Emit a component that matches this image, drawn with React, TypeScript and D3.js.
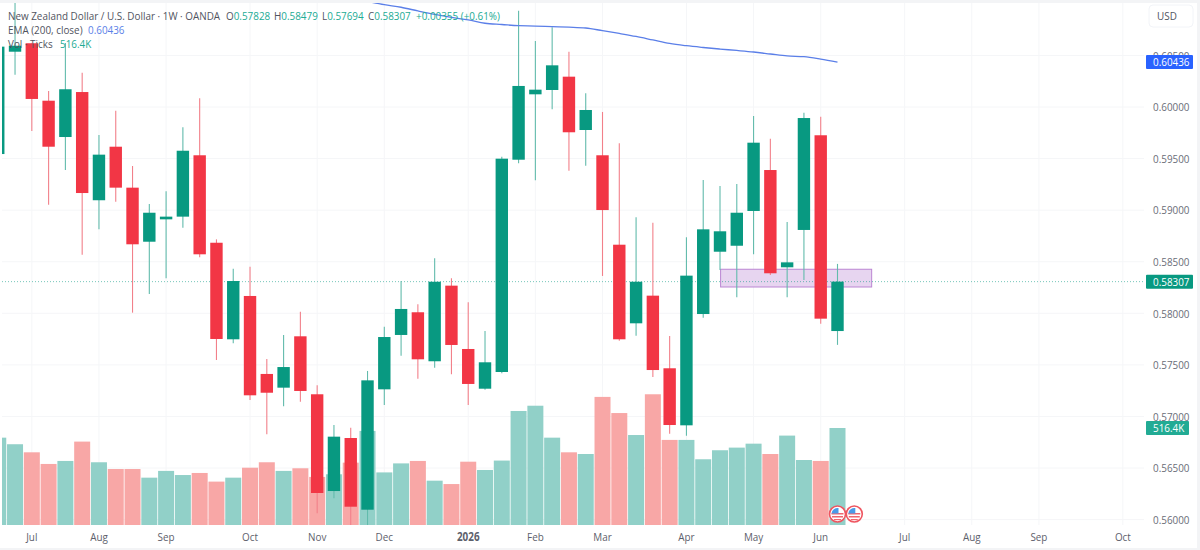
import React, { useEffect, useRef } from "react";
import * as d3 from "d3";

const W = 1200, H = 550;
const opens = [.59544,.60536,.60618,.60061,.59709,.60145,.59096,.59615,.59218,.58694,.58911,.58937,.59532,.58684,.57748,.58168,.57412,.57279,.57777,.57215,.56277,.56791,.56096,.57263,.5779,.5801,.57535,.58268,.57654,.57269,.57431,.59489,.60123,.60165,.60294,.59777,.59532,.58665,.57903,.58171,.57467,.56914,.57993,.58597,.58655,.58992,.59389,.58446,.58808,.59726,.57828];
const highs = [.60585,.61008,.60618,.60155,.60621,.60333,.59729,.59964,.59428,.5906,.59183,.59803,.60084,.58717,.58432,.58452,.57557,.5779,.58016,.57302,.56917,.56891,.57441,.5787,.58313,.58087,.58533,.58339,.58107,.57828,.59518,.60934,.6064,.60773,.60536,.60133,.59952,.59648,.58931,.58878,.5778,.58737,.59292,.59234,.59254,.59913,.59693,.58885,.59945,.59906,.58479];
const lows = [.59544,.60313,.59767,.59053,.59389,.58568,.58814,.59082,.58006,.58187,.58339,.5883,.58543,.57547,.57709,.57159,.56827,.57098,.57143,.56061,.56206,.55948,.55948,.57111,.57589,.57366,.57473,.57409,.57111,.57259,.57418,.59454,.59289,.59978,.59383,.59431,.58362,.57734,.57783,.57382,.56833,.56813,.57957,.5842,.58155,.58572,.58371,.58155,.58323,.57899,.57694];
const closes = [.60585,.60594,.60078,.59615,.60172,.59166,.59538,.59218,.58669,.58975,.58937,.59576,.58572,.57751,.58313,.57205,.5723,.57479,.57247,.56258,.56804,.56125,.5735,.5777,.58042,.57554,.58306,.57693,.57315,.57525,.59499,.60204,.60168,.60404,.59755,.59971,.59001,.57748,.58306,.5745,.56917,.58365,.58814,.58795,.58975,.59654,.58388,.58494,.59893,.57948,.58307];
const volumes = [465,430,387,325,341,444,334,298,298,252,288,266,277,231,252,305,334,288,302,256,270,332,501,280,328,341,236,218,337,293,343,607,635,465,387,378,682,596,479,696,453,453,350,398,412,433,378,476,346,341,516.4];
const emaStart = 22;
const emaValues = [.61023,.60992,.60967,.60931,.60897,.60868,.60844,.60812,.608,.60788,.60785,.60779,.60774,.60766,.6074,.60713,.60684,.6065,.60616,.60594,.60577,.60562,.60548,.60533,.60514,.60495,.60488,.60465,.60436];
const priceTicks = [.56,.565,.57,.575,.58,.585,.59,.595,.6,.605];
const monthIndex = [2,6,10,15,19,23,28,32,36,41,45,49,54,58,62,67];
const monthLabels = ["Jul","Aug","Sep","Oct","Nov","Dec","2026","Feb","Mar","Apr","May","Jun","Jul","Aug","Sep","Oct"];
const zoneFrom = 43, zoneTo = 52;
const zoneHigh = .58427, zoneLow = .58255;
const eventIndex = [50, 51];

const GREEN = "#089981", RED = "#f23645", BLUE = "#2962ff";
const FONT = "'Open Sans', Roboto, sans-serif";
const SX = 0.86;
const at = (x: number, y: number) => `translate(${x},${y}) scale(${SX},1)`;

export default function App() {
  const ref = useRef<SVGSVGElement>(null);
  useEffect(() => {
    const svg = d3.select(ref.current!);
    svg.selectAll("*").remove();
    const x = d3.scaleLinear().domain([0, 50]).range([-1.75, 837.5]);
    const y = d3.scaleLinear().domain([.56, .6]).range([519.6, 107]);
    const v = d3.scaleLinear().domain([0, 516.4]).range([525, 428]);
    const paneL = 2, paneR = 1144, paneT = 3, paneB = 525;

    svg.append("rect").attr("width", W).attr("height", H).attr("fill", "#ffffff");
    svg.append("defs").append("clipPath").attr("id", "pane").append("rect")
      .attr("x", paneL).attr("y", paneT).attr("width", paneR - paneL).attr("height", paneB - paneT);

    // Frame
    svg.append("rect").attr("x", 0).attr("y", 0).attr("width", W).attr("height", 3).attr("fill", "#f3f4f6");
    svg.append("rect").attr("x", 0).attr("y", 548).attr("width", W).attr("height", 2).attr("fill", "#f3f4f6");
    svg.append("rect").attr("x", 1197).attr("y", 0).attr("width", 3).attr("height", H).attr("fill", "#f3f4f6");

    const pane = svg.append("g").attr("clip-path", "url(#pane)");
    // Grid
    pane.selectAll(".hg").data(priceTicks).join("line")
      .attr("x1", paneL).attr("x2", paneR).attr("y1", d => y(d)).attr("y2", d => y(d))
      .attr("stroke", "#f5f6f8");
    pane.selectAll(".vg").data(monthIndex).join("line")
      .attr("x1", d => x(d)).attr("x2", d => x(d)).attr("y1", paneT).attr("y2", paneB)
      .attr("stroke", "#f5f6f8");

    // Volume
    pane.selectAll(".vol").data(volumes).join("rect")
      .attr("x", (_, i) => x(i) - 8).attr("width", 16)
      .attr("y", d => v(d)).attr("height", d => 525 - v(d))
      .attr("fill", (_, i) => closes[i] >= opens[i] ? "#91d0c8" : "#f8a7a6");

    // Zone
    pane.append("rect")
      .attr("x", x(zoneFrom) + 0.6).attr("width", x(zoneTo) - x(zoneFrom))
      .attr("y", y(zoneHigh)).attr("height", y(zoneLow) - y(zoneHigh))
      .attr("fill", "#e7d5f0").attr("stroke", "#bb86d2").attr("stroke-width", 1);

    // Last price line
    pane.append("line").attr("x1", paneL).attr("x2", paneR)
      .attr("y1", y(closes[50])).attr("y2", y(closes[50]))
      .attr("stroke", GREEN).attr("stroke-opacity", .55).attr("stroke-dasharray", "1 2");

    // Wicks
    pane.selectAll(".wick").data(d3.range(opens.length)).join("line")
      .attr("x1", i => x(i)).attr("x2", i => x(i))
      .attr("y1", i => y(highs[i])).attr("y2", i => y(lows[i]))
      .attr("stroke", i => closes[i] >= opens[i] ? "#62bbac" : "#f2808a")
      .attr("stroke-width", 1.1);
    // Bodies
    pane.selectAll(".body").data(d3.range(opens.length)).join("rect")
      .attr("x", i => x(i) - 6.2).attr("width", 12.4)
      .attr("y", i => y(Math.max(opens[i], closes[i])))
      .attr("height", i => Math.max(1, Math.abs(y(opens[i]) - y(closes[i]))))
      .attr("fill", i => closes[i] >= opens[i] ? GREEN : RED);

    // EMA
    const ema = d3.line<number>().x((_, i) => x(i + emaStart)).y(d => y(d)).curve(d3.curveMonotoneX);
    pane.append("path").attr("d", ema(emaValues)).attr("fill", "none").attr("stroke", "#5b7fe8").attr("stroke-width", 1.3);

    // Event badges
    eventIndex.forEach(i => {
      const g = svg.append("g").attr("transform", `translate(${x(i)},514)`);
      g.append("circle").attr("r", 8).attr("fill", "#fff").attr("stroke", "#ee5560").attr("stroke-width", 1.6);
      g.append("rect").attr("x", -6).attr("y", -1).attr("width", 12).attr("height", 1.5).attr("fill", "#f0656e");
      g.append("rect").attr("x", -5.5).attr("y", 2).attr("width", 11).attr("height", 1.5).attr("fill", "#f0656e");
      g.append("rect").attr("x", -3.5).attr("y", 5).attr("width", 7).attr("height", 1.2).attr("fill", "#f0656e");
      g.append("path").attr("d", "M-6,-0.5 A6.3,6.3 0 0 1 1,-6 L1,-0.5 Z").attr("fill", "#4a9be8");
    });

    // Price axis labels
    const axis = svg.append("g").attr("font-family", FONT).attr("font-size", 11.5).attr("fill", "#6a6d78");
    axis.selectAll(".pl").data(priceTicks).join("text")
      .attr("transform", d => at(1153, y(d) + 4.2)).text(d => d3.format(".5f")(d));

    // Time labels
    const time = svg.append("g").attr("font-family", FONT).attr("font-size", 11.5).attr("fill", "#5d606b").attr("text-anchor", "middle");
    time.selectAll(".tl").data(monthIndex).join("text")
      .attr("transform", d => at(x(d), 541))
      .attr("font-weight", (_, i) => monthLabels[i] === "2026" ? 700 : 400)
      .text((_, i) => monthLabels[i]);

    // Tags
    const tag = (cy: number, w: number, fill: string, s: string) => {
      svg.append("rect").attr("x", 1146).attr("y", cy - 7).attr("width", w).attr("height", 14).attr("rx", 1).attr("fill", fill);
      svg.append("text").attr("transform", at(1153, cy + 4.2)).attr("font-family", FONT).attr("font-size", 11.5)
        .attr("fill", "#fff").text(s);
    };
    tag(y(emaValues[emaValues.length - 1]), 47, BLUE, d3.format(".5f")(emaValues[emaValues.length - 1]));
    tag(y(closes[50]), 47, GREEN, d3.format(".5f")(closes[50]));
    tag(v(volumes[50]), 43, "#22ab94", "516.4K");

    // USD button
    svg.append("rect").attr("x", 1149).attr("y", 5).attr("width", 44).attr("height", 22).attr("rx", 4)
      .attr("fill", "#fff").attr("stroke", "#f2f4f8");
    svg.append("text").attr("transform", at(1157, 20)).attr("font-family", FONT).attr("font-size", 11.5)
      .attr("fill", "#50535e").text("USD");

    // Legend
    const leg = svg.append("g").attr("font-family", FONT).attr("font-size", 11.5);
    leg.append("text").attr("transform", at(8, 20)).attr("fill", "#50535e")
      .text("New Zealand Dollar / U.S. Dollar · 1W · OANDA");
    const ohlc: [string, string][] = [["O", "0.57828"], ["H", "0.58479"], ["L", "0.57694"], ["C", "0.58307"]];
    const ohlcX = [226, 274, 322, 368];
    ohlc.forEach(([k, val], i) => {
      const t = leg.append("text").attr("transform", at(ohlcX[i], 20)).attr("fill", "#50535e");
      t.append("tspan").text(k);
      t.append("tspan").attr("fill", "#22ab94").text(val);
    });
    leg.append("text").attr("transform", at(416, 20)).attr("fill", "#22ab94").text("+0.00355 (+0.61%)");
    leg.append("text").attr("transform", at(8, 34)).attr("fill", "#50535e").text("EMA (200, close)");
    leg.append("text").attr("transform", at(88, 34)).attr("fill", "#5b7fe8").text("0.60436");
    leg.append("text").attr("transform", at(8, 48)).attr("fill", "#50535e").text("Vol · Ticks");
    leg.append("text").attr("transform", at(60, 48)).attr("fill", "#22ab94").text("516.4K");
  }, []);
  return <svg ref={ref} width={W} height={H} style={{ position: "absolute", left: 0, top: 0, display: "block" }} />;
}
